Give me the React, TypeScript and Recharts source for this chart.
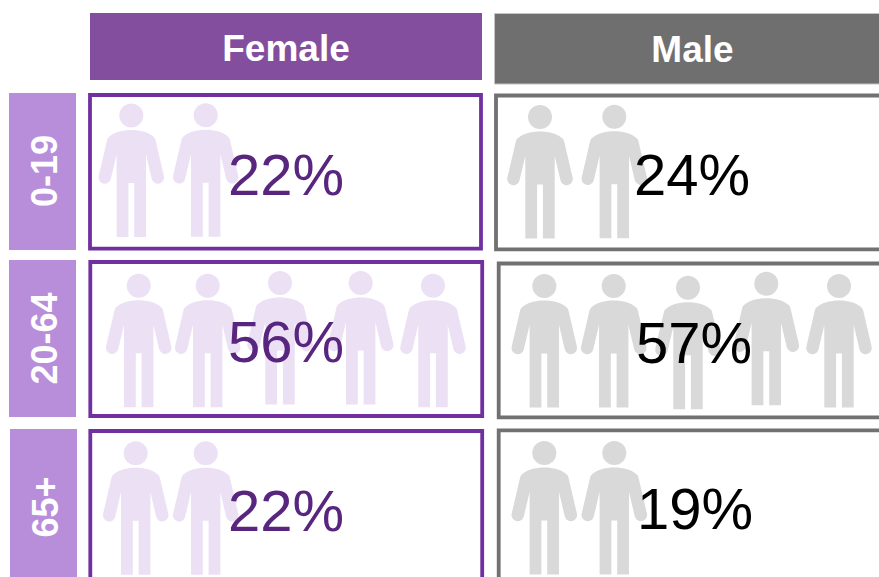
import React from "react";
import { ScatterChart, Scatter, XAxis, YAxis, ReferenceArea } from "recharts";

// ---- Data ----
const ageGroups = ["0-19", "20-64", "65+"];
const sexes = ["Female", "Male"];
const femaleShares = [22, 56, 22];
const maleShares = [24, 57, 19];
const femaleFigureCounts = [2, 5, 2];
const maleFigureCounts = [2, 5, 2];

// ---- Layout (scale domain equals the canvas size) ----
const W = 879;
const H = 577;
const PURPLE = "#7030A0";
const GREY = "#717171";

const headerBoxes = [
  { x1: 90, x2: 482, y1: 13, y2: 80, fill: "#834E9E", stroke: "none", tx: 286, ty: 61 },
  { x1: 494.5, x2: 890, y1: 13.5, y2: 84, fill: "#6F6F6F", stroke: "#C4C4C4", tx: 692.5, ty: 62 },
];
const ageBoxes = [
  { x1: 9, x2: 76, y1: 93, y2: 250, tx: 56.5, ty: 171 },
  { x1: 9, x2: 76, y1: 260, y2: 417, tx: 56.5, ty: 338.5 },
  { x1: 10, x2: 77, y1: 429, y2: 590, tx: 57.5, ty: 507 },
];
const femalePanels = [
  { x1: 90, x2: 481, y1: 95, y2: 248.7 },
  { x1: 90.3, x2: 482.2, y1: 262, y2: 416 },
  { x1: 90.3, x2: 482.2, y1: 431, y2: 600 },
];
const malePanels = [
  { x1: 496, x2: 900, y1: 95.5, y2: 249.3 },
  { x1: 498.7, x2: 900, y1: 263.5, y2: 417.3 },
  { x1: 498.7, x2: 900, y1: 430.3, y2: 600 },
];
const femaleSlots = [
  [[131.3, 115.5], [205.7, 115.3]],
  [[138.7, 285.7], [207.7, 285.7], [280, 283], [360.7, 283], [433, 285.7]],
  [[135.7, 453.3], [205.7, 453.3]],
];
const maleSlots = [
  [[540, 117], [614.3, 116.7]],
  [[544.3, 286], [613.7, 286], [688, 287.7], [766.3, 283.7], [839, 286]],
  [[544.3, 453], [614.3, 453]],
];
const femaleLabelPos = [[286, 195], [286, 362], [286, 530.5]];
const maleLabelPos = [[692, 195], [694, 362.5], [695, 529]];

const figurePoints = (counts: number[], slots: number[][][]) =>
  counts.flatMap((n, r) => slots[r].slice(0, n).map(([x, y]) => ({ x, y })));

const femaleFigures = figurePoints(femaleFigureCounts, femaleSlots);
const maleFigures = figurePoints(maleFigureCounts, maleSlots);

const shareLabels = [
  ...femaleShares.map((v, i) => ({ x: femaleLabelPos[i][0], y: femaleLabelPos[i][1], text: `${v}%`, fill: "#59267F" })),
  ...maleShares.map((v, i) => ({ x: maleLabelPos[i][0], y: maleLabelPos[i][1], text: `${v}%`, fill: "#000000" })),
];
const headerLabels = sexes.map((s, i) => ({ x: headerBoxes[i].tx, y: headerBoxes[i].ty, text: s }));
const ageLabels = ageGroups.map((s, i) => ({ x: ageBoxes[i].tx, y: ageBoxes[i].ty, text: s }));

const FONT = "'Liberation Sans', Arial, sans-serif";

const BODY =
  "M0 14.5 C9 14.5 18 17 22.5 21.5 C23.5 22.5 24 23.5 24.3 25 L32.6 60.5 " +
  "A6.2 6.2 0 0 1 20.5 63.5 L14.7 39 L14.7 121.5 L2.9 121.5 L2.9 67.5 L-2.9 67.5 L-2.9 121.5 L-14.7 121.5 L-14.7 39 " +
  "L-20.5 63.5 A6.2 6.2 0 0 1 -32.6 60.5 L-24.3 25 C-24 23.5 -23.5 22.5 -22.5 21.5 C-18 17 -9 14.5 0 14.5 Z";

const Figure = ({ cx, cy, fill }: any) => (
  <g transform={`translate(${cx},${cy})`} fill={fill}>
    <circle r={12} />
    <path d={BODY} />
  </g>
);

const ShareText = ({ cx, cy, payload }: any) => (
  <text x={cx} y={cy} textAnchor="middle" fontFamily={FONT} fontSize={58} fill={payload.fill}>
    {payload.text}
  </text>
);
const HeaderText = ({ cx, cy, payload }: any) => (
  <text x={cx} y={cy} textAnchor="middle" fontFamily={FONT} fontWeight="bold" fontSize={37} fill="#FFFFFF">
    {payload.text}
  </text>
);
const AgeText = ({ cx, cy, payload }: any) => (
  <text
    x={cx}
    y={cy}
    transform={`rotate(-90 ${cx} ${cy})`}
    textAnchor="middle"
    fontFamily={FONT}
    fontWeight="bold"
    fontSize={36}
    fill="#FFFFFF"
  >
    {payload.text}
  </text>
);

export default function App() {
  return (
    <div style={{ position: "absolute", left: 0, top: 0, width: W, height: H, overflow: "hidden", background: "#fff" }}>
      <ScatterChart width={W} height={H} margin={{ top: 0, right: 0, bottom: 0, left: 0 }}>
        <XAxis type="number" dataKey="x" domain={[0, W]} hide allowDataOverflow />
        <YAxis type="number" dataKey="y" domain={[0, H]} reversed hide allowDataOverflow />

        {headerBoxes.map((b, i) => (
          <ReferenceArea key={`h${i}`} x1={b.x1} x2={b.x2} y1={b.y1} y2={b.y2} fill={b.fill} fillOpacity={1} stroke={b.stroke} strokeWidth={1} ifOverflow="visible" />
        ))}
        {ageBoxes.map((b, i) => (
          <ReferenceArea key={`a${i}`} x1={b.x1} x2={b.x2} y1={b.y1} y2={b.y2} fill="#B88EDB" fillOpacity={1} stroke="none" ifOverflow="visible" />
        ))}
        {femalePanels.map((b, i) => (
          <ReferenceArea key={`f${i}`} x1={b.x1} x2={b.x2} y1={b.y1} y2={b.y2} fill="#FFFFFF" fillOpacity={1} stroke={PURPLE} strokeWidth={3.8} ifOverflow="visible" />
        ))}
        {malePanels.map((b, i) => (
          <ReferenceArea key={`m${i}`} x1={b.x1} x2={b.x2} y1={b.y1} y2={b.y2} fill="#FFFFFF" fillOpacity={1} stroke={GREY} strokeWidth={3.8} ifOverflow="visible" />
        ))}

        <Scatter data={femaleFigures} isAnimationActive={false} shape={(p: any) => <Figure {...p} fill="#ECE0F5" />} />
        <Scatter data={maleFigures} isAnimationActive={false} shape={(p: any) => <Figure {...p} fill="#D9D9D9" />} />
        <Scatter data={shareLabels} isAnimationActive={false} shape={(p: any) => <ShareText {...p} />} />
        <Scatter data={headerLabels} isAnimationActive={false} shape={(p: any) => <HeaderText {...p} />} />
        <Scatter data={ageLabels} isAnimationActive={false} shape={(p: any) => <AgeText {...p} />} />
      </ScatterChart>
    </div>
  );
}
